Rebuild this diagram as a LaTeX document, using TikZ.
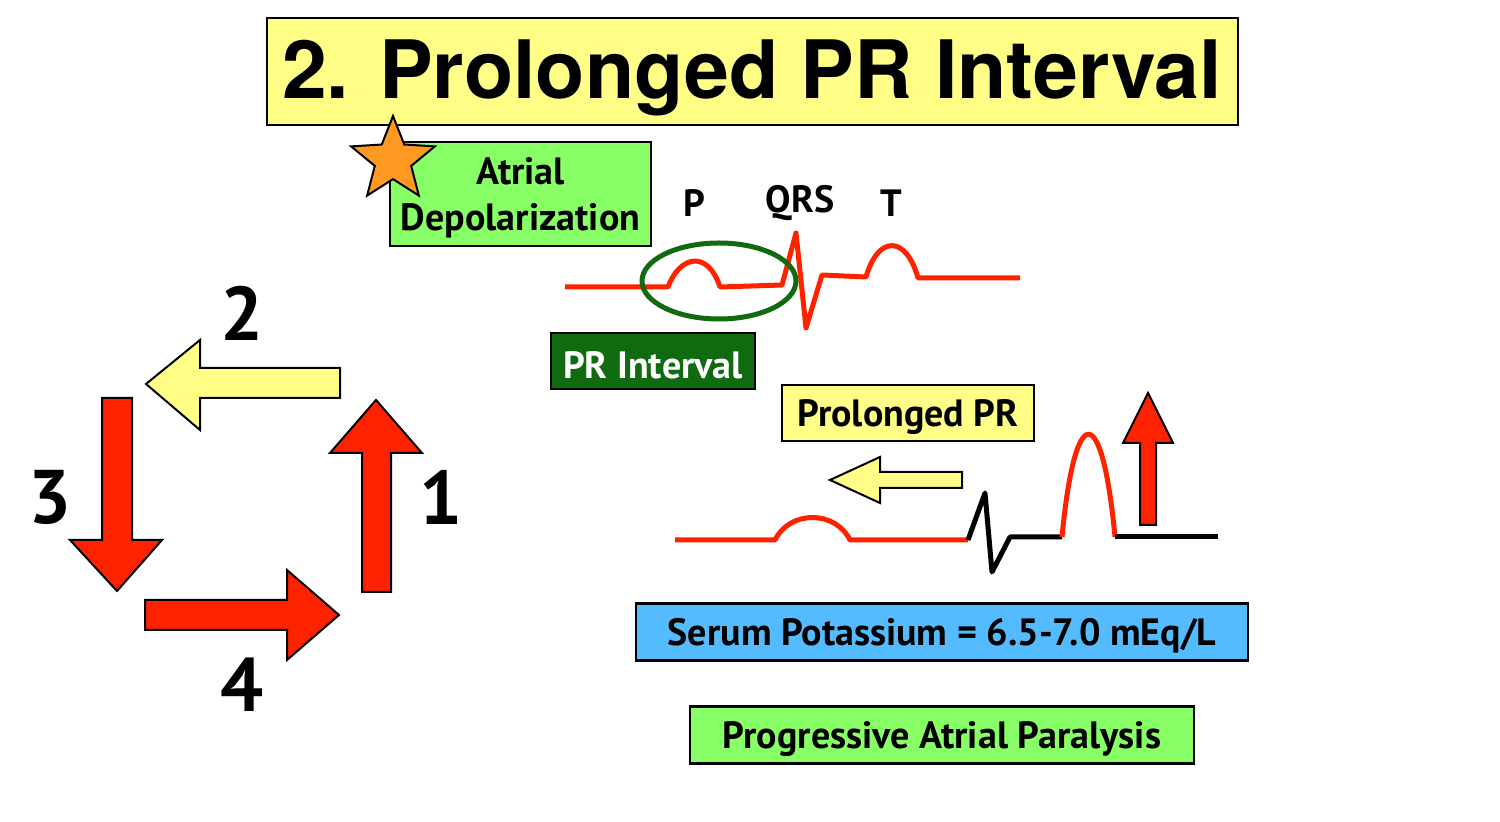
\documentclass[tikz,border=0pt]{standalone}
\usepackage{fontspec}
\setmainfont{PT Sans}
\newfontfamily\titlefont{TeX Gyre Heros}
\usetikzlibrary{shapes.geometric}
\definecolor{ylw}{HTML}{FFFF88}
\definecolor{grn}{HTML}{88FF66}
\definecolor{dgrn}{HTML}{106A10}
\definecolor{blu}{HTML}{55BBFF}
\definecolor{rd}{HTML}{FF2200}
\definecolor{org}{HTML}{FF9922}
\tikzset{
 box/.style={draw=black,line width=1.2pt,inner sep=0pt},
 arr/.style={draw=black,line width=1pt,line join=miter},
 ecg/.style={draw=rd,line width=2.5pt,line join=round},
 ecgk/.style={draw=black,line width=2.5pt,line join=round},
 num/.style={font=\bfseries\fontsize{38}{38}\selectfont},
 lbl/.style={font=\bfseries\fontsize{19}{20}\selectfont},
 bt/.style={font=\bfseries\fontsize{19}{23}\selectfont},
}
\begin{document}
\begin{tikzpicture}[x=0.5pt,y=-0.5pt]
\useasboundingbox (0,0) rectangle (1500,822);
% title
\node[box,fill=ylw,minimum width=485.5pt,minimum height=53.5pt] (title) at (752.5,71.5) {};
\node[font=\titlefont\bfseries\fontsize{40.3}{43}\selectfont] at (752,78) {2. Prolonged PR Interval};
% atrial depolarization
\node[box,fill=grn,minimum width=130.5pt,minimum height=52pt] (atr) at (520.5,194) {};
\node[align=center,bt] at (520.5,198) {Atrial\\Depolarization};
\node[star,star points=5,star point ratio=2.3,draw=black,fill=org,line width=1pt,minimum size=44pt,inner sep=0pt] (star) at (393,160) {};
% top ECG
\draw[ecg] (565,287) -- (668,287) .. controls (680,255) and (708,250) .. (720,287) -- (782,285) -- (796,233) -- (806,328) -- (822,275) -- (866,277) .. controls (878,235) and (906,235) .. (918,278) -- (1020,278);
\draw[draw=dgrn,line width=2.5pt] (719,281) ellipse [x radius=77,y radius=38];
\node[lbl] (P) at (694,203) {P};
\node[lbl] (QRS) at (800,203) {QRS};
\node[lbl] (T) at (891,203) {T};
\node[box,fill=dgrn,minimum width=102pt,minimum height=28pt] (pr) at (653,361) {};
\node[bt,text=white] at (653,365) {PR Interval};
\node[box,fill=ylw,minimum width=126pt,minimum height=28pt] (ppr) at (908,413) {};
\node[bt] at (908,417) {Prolonged PR};
% bottom ECG
\draw[ecg] (675,540) -- (775,540) .. controls (790,510) and (835,510) .. (850,540) -- (968,540);
\draw[ecgk] (968,540) -- (985,493) -- (992,572) -- (1010,537) -- (1062,537);
\draw[ecg] (1062,537) .. controls (1075,400) and (1102,400) .. (1115,537);
\draw[ecgk] (1115,537) -- (1218,537);
\draw[arr,fill=ylw] (962,472) -- (880,472) -- (880,457) -- (830,480) -- (880,503) -- (880,488) -- (962,488) -- cycle;
\draw[arr,fill=rd] (1140,525) -- (1140,443) -- (1123,443) -- (1148,393) -- (1173,443) -- (1156,443) -- (1156,525) -- cycle;
\node[box,fill=blu,minimum width=306pt,minimum height=28.5pt] (k) at (942,632) {};
\node[bt] at (942,636) {Serum Potassium = 6.5-7.0 mEq/L};
\node[box,fill=grn,minimum width=252pt,minimum height=28.5pt] (prog) at (942,735) {};
\node[bt] at (942,739) {Progressive Atrial Paralysis};
% cycle arrows
\draw[arr,fill=ylw] (340,368) -- (200,368) -- (200,340) -- (146,384) -- (200,430) -- (200,398) -- (340,398) -- cycle;
\draw[arr,fill=rd] (102,398) -- (132,398) -- (132,540) -- (162,540) -- (117,591) -- (70,540) -- (102,540) -- cycle;
\draw[arr,fill=rd] (145,600) -- (287,600) -- (287,570) -- (339,615) -- (287,660) -- (287,630) -- (145,630) -- cycle;
\draw[arr,fill=rd] (362,592) -- (362,453) -- (330,453) -- (376,400) -- (422,453) -- (391,453) -- (391,592) -- cycle;
\node[num] (n2) at (242,313) {2};
\node[num] (n3) at (50,497) {3};
\node[num] (n1) at (441,497) {1};
\node[num] (n4) at (242,685) {4};
\end{tikzpicture}
\end{document}
